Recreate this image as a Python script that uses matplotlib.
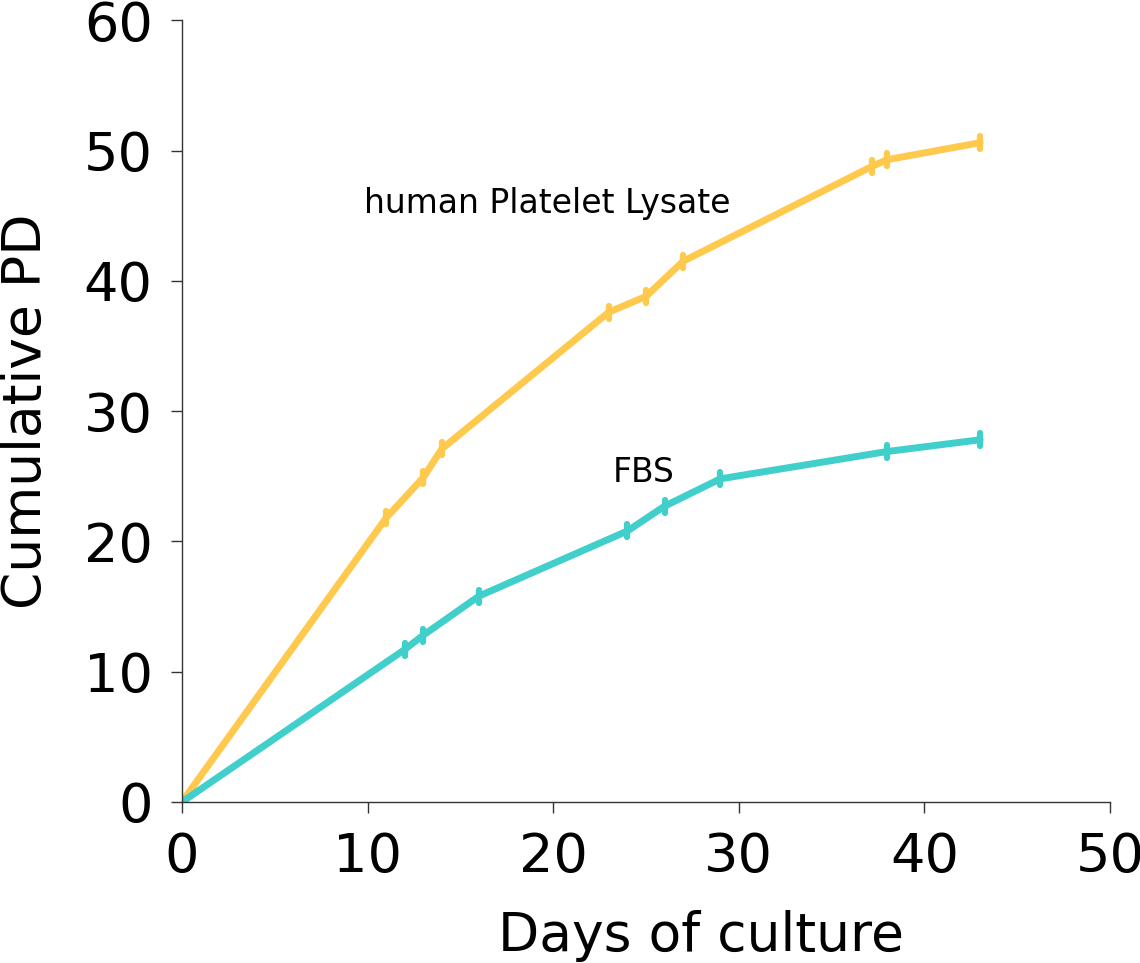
import matplotlib
matplotlib.use("Agg")
import matplotlib.pyplot as plt

days_hpl = [0, 11, 13, 14, 23, 25, 27, 37.2, 38, 43]
pd_hpl = [0, 21.8, 24.9, 27.1, 37.6, 38.8, 41.5, 48.8, 49.3, 50.6]
days_fbs = [0, 12, 13, 16, 24, 26, 29, 38, 43]
pd_fbs = [0, 11.7, 12.8, 15.8, 20.8, 22.7, 24.8, 26.9, 27.8]
err_hpl = [0, 0.5, 0.5, 0.5, 0.5, 0.5, 0.5, 0.5, 0.5, 0.5]
err_fbs = [0, 0.5, 0.5, 0.5, 0.5, 0.5, 0.5, 0.5, 0.5]

col_hpl = "#FFC94D"
col_fbs = "#40CFCB"

fig = plt.figure(figsize=(11.4, 9.63), dpi=100)
ax = fig.add_axes([0.1596, 0.1672, 0.8141, 0.8118])

for x, y, e, c in [(days_hpl, pd_hpl, err_hpl, col_hpl), (days_fbs, pd_fbs, err_fbs, col_fbs)]:
    ax.plot(x, y, color=c, lw=5, solid_capstyle="round", solid_joinstyle="round")
    eb = ax.errorbar(x, y, yerr=e, fmt="none", ecolor=c, elinewidth=4.5, capsize=0)
    for lc in eb[2]:
        lc.set_capstyle("round")

ax.text(9.8, 45.9, "human Platelet Lysate", fontsize=23.8, va="center", ha="left")
ax.text(23.2, 25.3, "FBS", fontsize=23.8, va="center", ha="left")

ax.set_xlim(0, 50)
ax.set_ylim(0, 60)
ax.set_xticks([0, 10, 20, 30, 40, 50])
ax.set_yticks([0, 10, 20, 30, 40, 50, 60])
ax.spines["top"].set_visible(False)
ax.spines["right"].set_visible(False)
for s in ["left", "bottom"]:
    ax.spines[s].set_color("#333333")
    ax.spines[s].set_linewidth(1)
ax.tick_params(labelsize=39, length=8, width=1, color="#333333")
ax.tick_params(axis="x", pad=13)
ax.tick_params(axis="y", pad=13)
ax.set_xlabel("Days of culture", fontsize=38.5)
ax.set_ylabel("Cumulative PD", fontsize=38.5)
ax.xaxis.set_label_coords(0.559, -0.138)
ax.yaxis.set_label_coords(-0.14, 0.5)

fig.savefig("out.png", dpi=100)
